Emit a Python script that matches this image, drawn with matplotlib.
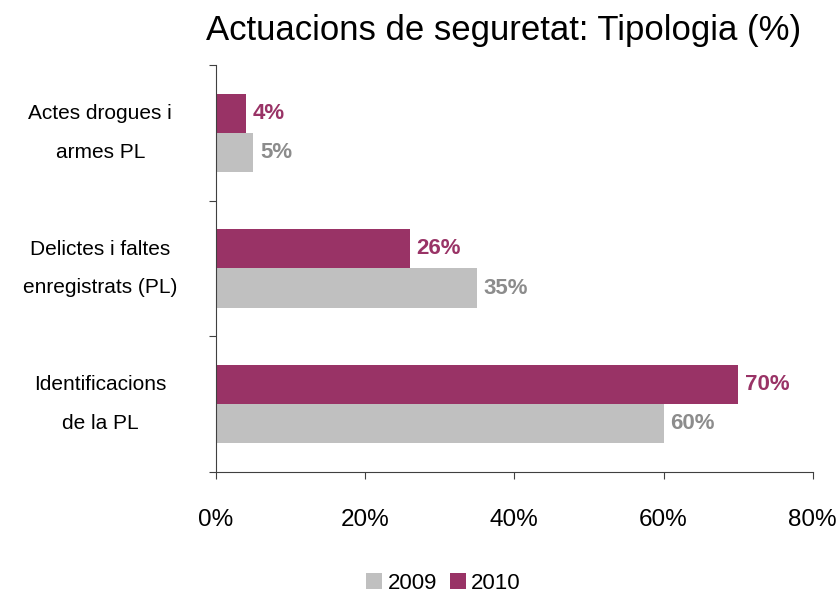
import numpy as np
import matplotlib
matplotlib.use("Agg")
import matplotlib.pyplot as plt
from matplotlib.ticker import FuncFormatter

plt.rcParams['font.family'] = ['Liberation Sans', 'DejaVu Sans']

# datos
categorias = ["Identificacions\nde la PL", "Delictes i faltes\nenregistrats (PL)", "Actes drogues i\narmes PL"]
v2009 = [60, 35, 5]
v2010 = [70, 26, 4]
series = ["2009", "2010"]

gris = "#C0C0C0"
magenta = "#993366"

fig = plt.figure(figsize=(8.37, 5.92), dpi=100)
ax = fig.add_axes([0.258, 0.203, 0.713, 0.687])

y = np.arange(len(categorias))
h = 0.29
b09 = ax.barh(y - h / 2, v2009, height=h, color=gris, label=series[0])
b10 = ax.barh(y + h / 2, v2010, height=h, color=magenta, label=series[1])

for bar, v in zip(b09, v2009):
    ax.text(bar.get_width() + 0.9, bar.get_y() + bar.get_height() / 2, f"{v}%",
            va="center", ha="left", fontsize=16, fontweight="bold", color="#8C8C8C")
for bar, v in zip(b10, v2010):
    ax.text(bar.get_width() + 0.9, bar.get_y() + bar.get_height() / 2, f"{v}%",
            va="center", ha="left", fontsize=16, fontweight="bold", color=magenta)

ax.set_xlim(0, 80)
ax.set_ylim(-0.5, 2.5)
ax.set_xticks([0, 20, 40, 60, 80])
ax.xaxis.set_major_formatter(FuncFormatter(lambda v, p: f"{v:.0f}%"))
ax.tick_params(axis="x", labelsize=17.5, length=5, pad=22, color="#404040")

# marcas del eje y entre categorias
ax.set_yticks([-0.5, 0.5, 1.5, 2.5])
ax.set_yticklabels([])
ax.tick_params(axis="y", length=5, color="#404040")
for yi, c in zip(y, categorias):
    ax.text(-15.5, yi, c, ha="center", va="center", fontsize=15, linespacing=2.3,
            clip_on=False)

for s in ["top", "right"]:
    ax.spines[s].set_visible(False)
for s in ["left", "bottom"]:
    ax.spines[s].set_color("#404040")

fig.text(0.602, 0.949, "Actuacions de seguretat: Tipologia (%)", fontsize=25,
         ha="center", va="center")

fig.legend(loc="center", bbox_to_anchor=(0.53, 0.015), ncol=2, frameon=False,
           fontsize=16, handlelength=0.7, handleheight=0.7, handletextpad=0.25,
           columnspacing=0.6)

fig.savefig("out.png", dpi=100)
